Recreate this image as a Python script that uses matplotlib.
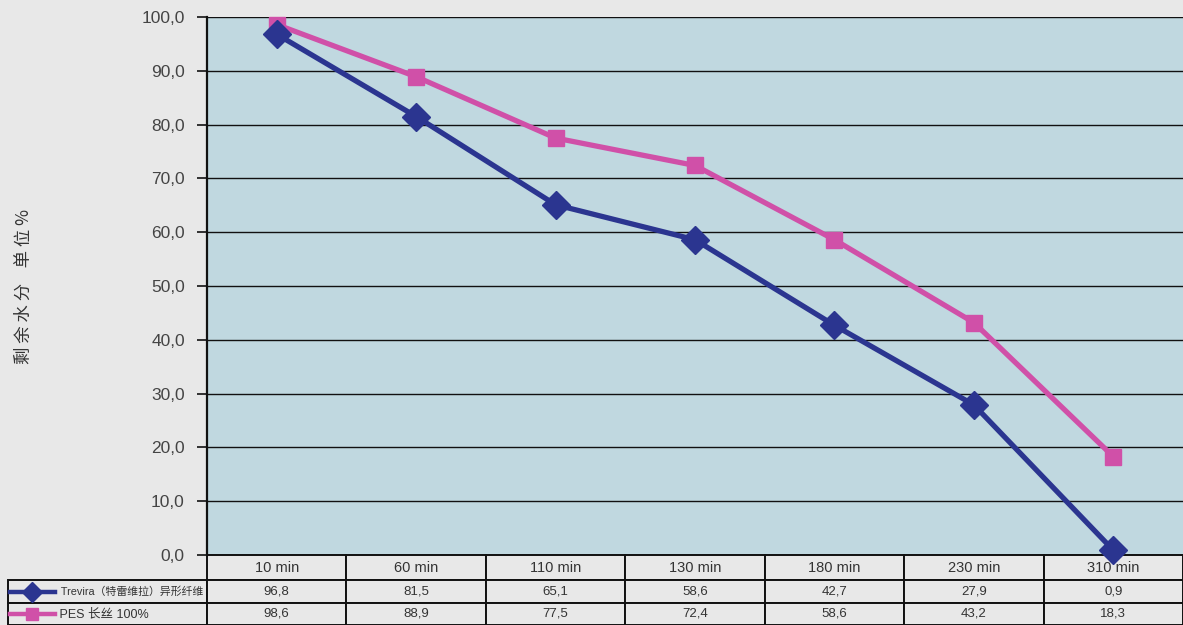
import matplotlib.pyplot as plt
from matplotlib.lines import Line2D

plt.rcParams['font.family'] = ['Liberation Sans', 'Noto Sans CJK SC', 'DejaVu Sans']

times = ['10 min', '60 min', '110 min', '130 min', '180 min', '230 min', '310 min']
trevira = [96.8, 81.5, 65.1, 58.6, 42.7, 27.9, 0.9]
pes = [98.6, 88.9, 77.5, 72.4, 58.6, 43.2, 18.3]
series_names = ['Trevira（特雷维拉）异形纤维', 'PES 长丝 100%']
y_ticks = [0, 10, 20, 30, 40, 50, 60, 70, 80, 90, 100]


def comma(v):
    return f'{v:.1f}'.replace('.', ',')


blue = '#2b3590'
pink = '#d050a8'
fig_bg = '#e8e8e8'
plot_bg = '#c0d8e0'

W, H = 1183, 625
fig = plt.figure(figsize=(W / 100, H / 100), dpi=100, facecolor=fig_bg)
ax = fig.add_axes([207 / W, 1 - 555 / H, 976 / W, 538 / H])
ax.set_facecolor(plot_bg)

x = list(range(len(times)))
ax.plot(x, trevira, color=blue, lw=3.8, marker='D', ms=14, zorder=4, clip_on=False)
ax.plot(x, pes, color=pink, lw=3.8, marker='s', ms=12, zorder=3, clip_on=False)

ax.set_xlim(-0.5, len(times) - 0.5)
ax.set_ylim(0, 100)
ax.set_yticks(y_ticks)
ax.set_yticklabels([comma(v) for v in y_ticks], fontsize=12.5, color='#444444')
ax.tick_params(axis='y', length=7, width=1.3, color='#222222', pad=9)
ax.set_xticks([])
ax.yaxis.grid(True, color='#111111', lw=1.0)
ax.set_axisbelow(True)
for s in ['top', 'right', 'bottom']:
    ax.spines[s].set_visible(False)
ax.spines['left'].set_linewidth(1.6)
ax.spines['left'].set_color('#111111')

ax.set_ylabel('剩 余 水 分    单 位 %', fontsize=12.5, color='#333333',
              family=['Noto Sans CJK SC', 'DejaVu Sans'])
ax.yaxis.set_label_coords(-174 / 976, 0.5)

# data table under the plot
row_h = [25, 23, 22]
label_size = {1: 7.8, 2: 9}
label_pad = [' ' * 11, ' ' * 9]
tb = ax.table(cellText=[[comma(v) for v in trevira], [comma(v) for v in pes]],
              rowLabels=[p + n for p, n in zip(label_pad, series_names)],
              colLabels=times, cellLoc='center', rowLoc='left',
              bbox=[0, -sum(row_h) / 538, 1, sum(row_h) / 538])
tb._autoColumns = []
tb.auto_set_font_size(False)
for (r, c), cell in tb.get_celld().items():
    cell.set_facecolor(fig_bg)
    cell.set_edgecolor('#111111')
    cell.set_linewidth(1.4)
    cell.set_height(row_h[r])
    if c == -1:
        cell.set_width(199 / 976)
        cell.get_text().set_fontsize(label_size[r])
    elif r == 0:
        cell.get_text().set_fontsize(10.5)
    else:
        cell.get_text().set_fontsize(9.5)
    cell.get_text().set_color('#333333')
tb.set_clip_on(False)

# legend keys inside the row labels
for yy, col, mk, size in [(592, blue, 'D', 10), (614, pink, 's', 9)]:
    fig.add_artist(Line2D([10 / W, 55 / W], [1 - yy / H, 1 - yy / H],
                          color=col, lw=3.2))
    fig.add_artist(Line2D([32 / W], [1 - yy / H], color=col, marker=mk, ms=size,
                          lw=0))

fig.savefig('out.png', dpi=100, facecolor=fig_bg)
